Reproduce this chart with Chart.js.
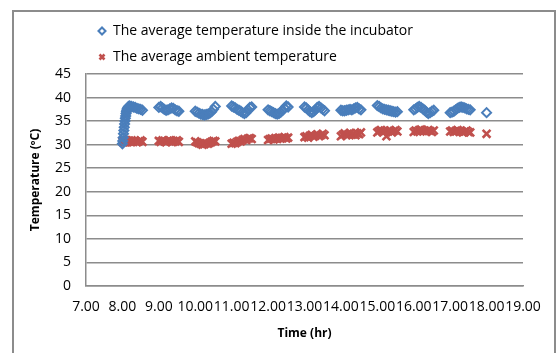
<!DOCTYPE html>
<html>
<head>
<meta charset="utf-8">
<script src="https://cdn.jsdelivr.net/npm/chart.js@4/dist/chart.umd.min.js"></script>
<style>
  body { margin: 0; background: #fff; }
  #frame { position: absolute; left: 12px; top: 10px; width: 540px; height: 360px; border: 2px solid #8c8c8c; }
  #wrap { position: absolute; left: 0; top: 0; width: 560px; height: 353px; }
</style>
</head>
<body>
<div id="frame"></div>
<div id="wrap"><canvas id="mainChart" width="560" height="353"></canvas></div>
<script>
// time in hour.minute form, as in the logger sheet
const times = [
  8.00, 8.01, 8.02, 8.03, 8.04, 8.05, 8.06, 8.07, 8.08, 8.09, 8.10, 8.11, 8.12, 8.13, 8.15, 8.17,
  8.20, 8.25, 8.30, 8.35, 8.40, 8.45, 8.50, 8.55,
  9.00, 9.05, 9.10, 9.15, 9.20, 9.25, 9.30, 9.35, 9.40, 9.45, 9.50, 9.55,
  10.00, 10.05, 10.10, 10.15, 10.20, 10.25, 10.30, 10.35, 10.40, 10.45, 10.50, 10.55,
  11.00, 11.05, 11.10, 11.15, 11.20, 11.25, 11.30, 11.35, 11.40, 11.45, 11.50, 11.55,
  12.00, 12.05, 12.10, 12.15, 12.20, 12.25, 12.30, 12.35, 12.40, 12.45, 12.50, 12.55,
  13.00, 13.05, 13.10, 13.15, 13.20, 13.25, 13.30, 13.35, 13.40, 13.45, 13.50, 13.55,
  14.00, 14.05, 14.10, 14.15, 14.20, 14.25, 14.30, 14.35, 14.40, 14.45, 14.50, 14.55,
  15.00, 15.05, 15.10, 15.15, 15.20, 15.25, 15.30, 15.35, 15.40, 15.45, 15.50, 15.55,
  16.00, 16.05, 16.10, 16.15, 16.20, 16.25, 16.30, 16.35, 16.40, 16.45, 16.50, 16.55,
  17.00, 17.05, 17.10, 17.15, 17.20, 17.25, 17.30, 17.35, 17.40, 17.45, 17.50, 17.55,
  18.00
];

// 인큐베이터 내부 평균 온도
const insideTemp = [
  30.2, 30.8, 31.5, 32.3, 33.0, 33.7, 34.4, 35.0, 35.6, 36.1, 36.6, 37.0, 37.3, 37.6, 37.9, 38.1,
  38.2, 38.1, 38.0, 37.9, 37.7, 37.6, 37.5, 37.3,
  37.9, 38.1, 37.8, 37.5, 37.3, 37.4, 37.6, 37.8, 37.7, 37.4, 37.2, 37.1,
  37.1, 36.9, 36.7, 36.5, 36.4, 36.3, 36.4, 36.5, 36.7, 37.0, 37.5, 38.1,
  38.2, 38.0, 37.8, 37.5, 37.3, 37.1, 36.8, 36.6, 36.8, 37.4, 37.9, 38.0,
  37.4, 37.2, 37.0, 36.8, 36.6, 36.5, 36.6, 36.9, 37.3, 37.8, 38.2, 38.0,
  38.0, 37.8, 37.4, 37.0, 36.8, 37.0, 37.4, 37.9, 38.1, 37.8, 37.5, 37.2,
  37.3, 37.2, 37.2, 37.3, 37.4, 37.5, 37.4, 37.6, 37.8, 37.9, 37.6, 37.4,
  38.3, 38.1, 37.8, 37.6, 37.5, 37.4, 37.3, 37.2, 37.1, 37.0, 36.9, 37.0,
  37.4, 37.6, 37.9, 38.1, 37.9, 37.6, 37.3, 36.9, 36.6, 36.8, 37.1, 37.3,
  36.8, 36.9, 37.1, 37.4, 37.7, 37.9, 38.0, 37.9, 37.8, 37.6, 37.5, 37.4,
  36.8
];

// 주변 평균 온도
const ambientTemp = [
  30.8, 30.6, 30.9, 30.5, 30.7, 30.8, 30.6, 30.9, 30.7, 30.5, 30.8, 30.6, 30.9, 30.7, 30.6, 30.8,
  30.7, 30.9, 30.6, 30.8, 30.5, 30.7, 30.9, 30.6,
  30.8, 30.6, 30.9, 30.7, 30.5, 30.8, 30.9, 30.6, 30.8, 30.7, 30.9, 30.6,
  30.7, 30.5, 30.3, 30.2, 30.0, 30.1, 30.3, 30.2, 30.4, 30.6, 30.8, 30.7,
  30.2, 30.4, 30.3, 30.6, 30.8, 30.7, 31.0, 31.2, 31.0, 31.3, 31.4, 31.2,
  31.0, 31.2, 31.3, 31.1, 31.4, 31.2, 31.5, 31.3, 31.4, 31.6, 31.3, 31.5,
  31.6, 31.8, 31.5, 31.9, 32.1, 31.7, 31.9, 32.2, 31.8, 32.0, 32.3, 32.0,
  31.8, 32.1, 32.4, 32.0, 32.2, 32.5, 32.1, 32.3, 32.0, 32.4, 32.2, 32.6,
  32.6, 32.9, 33.1, 32.7, 33.0, 31.8, 32.8, 33.0, 32.6, 32.9, 33.1, 32.8,
  32.7, 33.0, 32.8, 33.1, 33.2, 32.9, 33.0, 32.8, 33.1, 32.9, 32.7, 33.0,
  32.8, 33.0, 32.7, 32.9, 33.1, 32.8, 32.9, 32.6, 32.8, 33.0, 32.7, 32.6,
  32.3
];

const seriesNames = ['The average temperature inside the incubator', 'The average ambient temperature'];
const xTicks = [7, 8, 9, 10, 11, 12, 13, 14, 15, 16, 17, 18, 19];
const yTicks = [0, 5, 10, 15, 20, 25, 30, 35, 40, 45];

const toPoints = (xs, ys) => xs.map((x, i) => ({ x, y: ys[i] }));

const gridColor = '#8c8c8c';
const fontFamily = '"Open Sans", "DejaVu Sans", sans-serif';

const ctx = document.getElementById('mainChart').getContext('2d');
new Chart(ctx, {
  type: 'scatter',
  data: {
    datasets: [{
      label: seriesNames[0],
      data: toPoints(times, insideTemp),
      pointStyle: 'rectRot',
      pointRadius: 4.5,
      pointBorderWidth: 2,
      borderColor: '#4a7ebb',
      backgroundColor: 'rgba(255,255,255,0)'
    }, {
      label: seriesNames[1],
      data: toPoints(times, ambientTemp),
      pointStyle: 'crossRot',
      pointRadius: 5.5,
      pointBorderWidth: 2.6,
      borderColor: '#c0504d',
      backgroundColor: '#c0504d'
    }]
  },
  options: {
    responsive: false,
    animation: false,
    layout: { padding: { top: 12, right: 37, bottom: 0, left: 0 } },
    scales: {
      x: {
        type: 'linear',
        min: xTicks[0],
        max: xTicks[xTicks.length - 1],
        afterBuildTicks: (scale) => { scale.ticks = xTicks.map(v => ({ value: v })); },
        afterFit: (scale) => { scale.height = 67; },
        grid: { display: false, drawTicks: false },
        border: { display: true, color: gridColor, width: 1.5 },
        ticks: {
          autoSkip: false,
          maxRotation: 0,
          padding: 13,
          color: '#000',
          font: { family: fontFamily, size: 14 },
          callback: (v) => Number(v).toFixed(2)
        },
        title: {
          display: true,
          text: 'Time (hr)',
          color: '#000',
          font: { family: fontFamily, size: 12, weight: 'bold' },
          padding: { top: 4, bottom: 12 }
        }
      },
      y: {
        min: yTicks[0],
        max: yTicks[yTicks.length - 1],
        afterBuildTicks: (scale) => { scale.ticks = yTicks.map(v => ({ value: v })); },
        afterFit: (scale) => { scale.width = 86; },
        grid: { color: gridColor, lineWidth: 1.5, drawTicks: false },
        border: { display: true, color: gridColor, width: 1.5 },
        ticks: {
          padding: 15,
          color: '#000',
          font: { family: fontFamily, size: 14 }
        },
        title: {
          display: true,
          text: 'Temperature (ºC)',
          color: '#000',
          font: { family: fontFamily, size: 12, weight: 'bold' },
          padding: { top: 28, bottom: 4 }
        }
      }
    },
    plugins: {
      tooltip: { enabled: false },
      legend: {
        position: 'top',
        align: 'start',
        fullSize: false,
        labels: {
          usePointStyle: true,
          boxWidth: 8,
          boxHeight: 5,
          padding: 12,
          color: '#000',
          font: { family: fontFamily, size: 14 }
        }
      }
    }
  }
});
</script>
</body>
</html>
